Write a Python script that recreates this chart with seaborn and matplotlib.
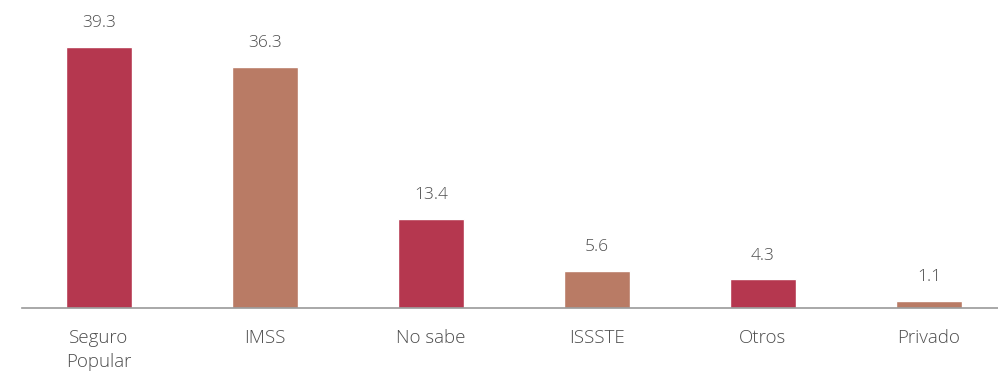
import matplotlib
matplotlib.use("Agg")
import matplotlib.pyplot as plt
import seaborn as sns
import pandas as pd

categories = ["Seguro\nPopular", "IMSS", "No sabe", "ISSSTE", "Otros", "Privado"]
values = [39.3, 36.3, 13.4, 5.6, 4.3, 1.1]
value_labels = ["39.3", "36.3", "13.4", "5.6", "4.3", "1.1"]
colors = ["#b5374f", "#b97b65", "#b5374f", "#b97b65", "#b5374f", "#b97b65"]

sns.set_theme(style="white")
plt.rcParams['font.family'] = ['Open Sans', 'DejaVu Sans']

df = pd.DataFrame({"cat": categories, "val": values})

fig = plt.figure(figsize=(9.98, 3.82), dpi=100)
ax = fig.add_axes([22/998, 74/382, 976/998, 308/382])
sns.barplot(data=df, x="cat", y="val", hue="cat", palette=colors, width=0.4,
            legend=False, ax=ax, saturation=1)

for i, (v, lab) in enumerate(zip(values, value_labels)):
    ax.text(i, v + 2.4, lab, ha="center", va="bottom", fontsize=12.5,
            color="#4d4d4d", fontweight="light")

ax.set_xlim(-0.464, 5.416)
ax.set_ylim(0, 46.4)
ax.set_xlabel("")
ax.set_ylabel("")
ax.set_yticks([])
for s in ["top", "right", "left"]:
    ax.spines[s].set_visible(False)
ax.spines["bottom"].set_color("#999999")
ax.spines["bottom"].set_linewidth(1.2)
ax.tick_params(axis="x", length=0, pad=15, labelsize=13.5, labelcolor="#4d4d4d")
for t in ax.get_xticklabels():
    t.set_linespacing(1.45)
    t.set_fontweight("light")

fig.savefig("out.png", dpi=100)
